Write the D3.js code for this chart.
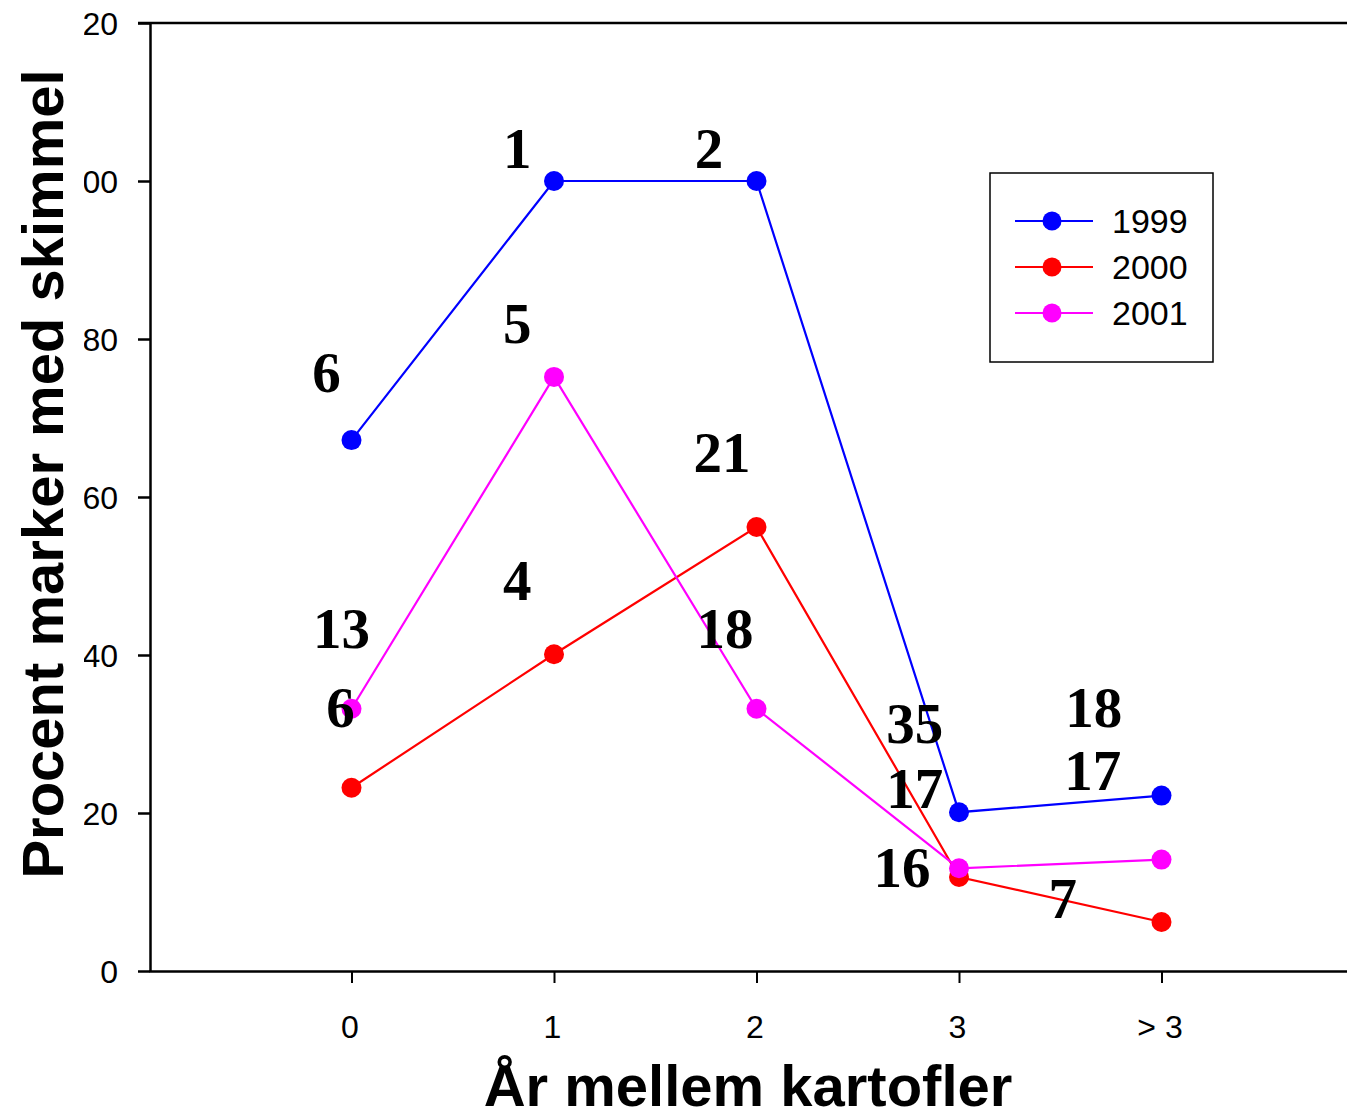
<!DOCTYPE html>
<html>
<head>
<meta charset="utf-8">
<script src="https://cdn.jsdelivr.net/npm/d3@7"></script>
<style>
  html, body { margin: 0; padding: 0; background: #fff; overflow: hidden; }
  svg { display: block; }
</style>
</head>
<body>
<svg id="chart" width="1347" height="1118"></svg>
<script>
// ---------- data ----------
const categories = ["0", "1", "2", "3", "> 3"];
const years = ["1999", "2000", "2001"];
const colors = ["#0000ff", "#ff0000", "#ff00ff"];
const values1999 = [67.2, 100, 100, 20.1, 22.2];
const values2000 = [23.2, 40.1, 56.2, 11.9, 6.2];
const values2001 = [33.2, 75.2, 33.2, 13.0, 14.1];
const yTicks = [0, 20, 40, 60, 80, 100, 120];
// sample-size annotations: [label, x (category index units), y (percent units)]
const annotations = [
  ["6", -0.123, 73.3], ["1", 0.819, 101.6], ["2", 1.766, 101.6],
  ["5", 0.819, 79.5], ["21", 1.830, 63.2], ["4", 0.819, 47.0],
  ["13", -0.049, 40.9], ["18", 1.845, 40.9], ["6", -0.054, 30.9],
  ["35", 2.782, 28.9], ["17", 2.782, 20.6], ["16", 2.718, 10.6],
  ["18", 3.665, 30.9], ["17", 3.660, 22.9], ["7", 3.512, 6.7]
];
const series = [values1999, values2000, values2001];

// ---------- scales ----------
const svg = d3.select("#chart");
const x = d3.scaleLinear().domain([-1, 5]).range([149, 1364]);
const y = d3.scaleLinear().domain([0, 120]).range([971, 23]);
const sans = "Liberation Sans, Arial, Helvetica, sans-serif";
const serif = "Liberation Serif, Times New Roman, serif";

// clip for y tick labels (the reference cuts the leftmost digits)
svg.append("defs").append("clipPath").attr("id", "ylabClip")
  .append("rect").attr("x", 84).attr("y", 0).attr("width", 1347).attr("height", 1118);

// ---------- axes ----------
const xAxis = svg.append("g")
  .attr("transform", `translate(0,${y(0)})`)
  .call(d3.axisBottom(x).tickValues([0, 1, 2, 3, 4])
    .tickFormat(i => categories[i]).tickSize(12).tickSizeOuter(0));
xAxis.select(".domain").attr("stroke", "#000").attr("stroke-width", 2.5);
xAxis.selectAll(".tick line").attr("stroke", "#000").attr("stroke-width", 2);
xAxis.selectAll(".tick text")
  .attr("y", 67).attr("dy", 0).attr("dx", -2)
  .attr("font-family", sans).attr("font-size", 32).attr("fill", "#000");

const yWrap = svg.append("g").attr("clip-path", "url(#ylabClip)");
const yAxis = yWrap.append("g")
  .attr("transform", `translate(${x(-1) + 1},0)`)
  .call(d3.axisLeft(y).tickValues(yTicks).tickSize(12).tickSizeOuter(0));
yAxis.select(".domain").attr("stroke", "#000").attr("stroke-width", 2.5);
yAxis.selectAll(".tick line").attr("stroke", "#000").attr("stroke-width", 2.5);
yAxis.selectAll(".tick text")
  .attr("x", -32).attr("dy", "0.36em")
  .attr("font-family", sans).attr("font-size", 32).attr("fill", "#000");

// top frame line
svg.append("line")
  .attr("x1", x(-1) - 11).attr("x2", x(5))
  .attr("y1", y(120)).attr("y2", y(120))
  .attr("stroke", "#000").attr("stroke-width", 2.5);

// ---------- series ----------
const line = d3.line().x((d, i) => x(i)).y(d => y(d));
series.forEach((vals, s) => {
  const g = svg.append("g");
  g.append("path").datum(vals)
    .attr("d", line).attr("fill", "none")
    .attr("stroke", colors[s]).attr("stroke-width", 2.2);
  g.selectAll("circle").data(vals).join("circle")
    .attr("cx", (d, i) => x(i)).attr("cy", d => y(d))
    .attr("r", 10).attr("fill", colors[s]);
});

// ---------- annotations ----------
svg.append("g").selectAll("text").data(annotations).join("text")
  .attr("x", d => x(d[1])).attr("y", d => y(d[2]))
  .attr("text-anchor", "middle")
  .attr("font-family", serif).attr("font-weight", "bold")
  .attr("font-size", 57).attr("fill", "#000")
  .text(d => d[0]);

// ---------- legend ----------
const lg = svg.append("g");
lg.append("rect").attr("x", 990).attr("y", 173).attr("width", 223).attr("height", 189)
  .attr("fill", "#fff").attr("stroke", "#000").attr("stroke-width", 1.5);
years.forEach((yr, i) => {
  const cy = 221 + i * 46;
  lg.append("line").attr("x1", 1015).attr("x2", 1093).attr("y1", cy).attr("y2", cy)
    .attr("stroke", colors[i]).attr("stroke-width", 2.2);
  lg.append("circle").attr("cx", 1052).attr("cy", cy).attr("r", 9.5).attr("fill", colors[i]);
  lg.append("text").attr("x", 1112).attr("y", cy + 12)
    .attr("font-family", sans).attr("font-size", 34).attr("fill", "#000").text(yr);
});

// ---------- axis titles ----------
svg.append("text")
  .attr("x", 748).attr("y", 1106)
  .attr("text-anchor", "middle")
  .attr("font-family", sans).attr("font-weight", "bold").attr("font-size", 58)
  .attr("fill", "#000").text("År mellem kartofler");

svg.append("text")
  .attr("transform", "translate(63,474) rotate(-90)")
  .attr("text-anchor", "middle")
  .attr("font-family", sans).attr("font-weight", "bold").attr("font-size", 58)
  .attr("fill", "#000").text("Procent marker med skimmel");
</script>
</body>
</html>
